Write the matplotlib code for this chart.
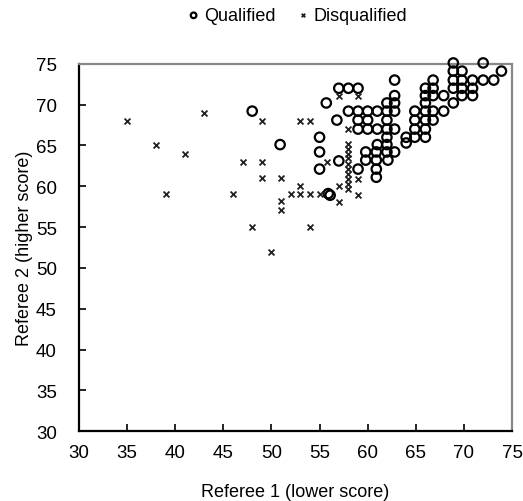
import numpy as np
import matplotlib.pyplot as plt

plt.rcParams['font.family'] = ['Liberation Sans', 'DejaVu Sans']

# qualified entries (referee 1 lower score, referee 2 higher score)
qual_x = [48, 50.9,
          68.9, 72, 68.9, 69.8, 73.9,
          62.8, 66.8, 68.9, 69.8, 70.9, 72, 73.1,
          57, 58, 59, 66, 66.8, 68.9, 69.8, 70.9,
          62.8, 66, 66.8, 67.9, 69.8, 70.9,
          55.7, 62, 62.8, 66, 68.9,
          58, 59, 60, 61, 62, 62.8, 64.9, 66, 66.8, 67.9,
          56.8, 59, 60, 62, 64.9, 66, 66.8,
          59, 60, 61, 62, 62.8, 64.9, 66,
          55, 62, 64, 64.9, 66,
          61, 62, 64,
          55, 59.8, 60.9, 62, 62.8,
          57, 59.8, 60.9, 62.1,
          55, 59, 60.9,
          60.9,
          55.9, 56.1]
qual_y = [69.2, 65.1,
          75.1, 75.1, 74.1, 74.1, 74.1,
          73, 73, 73, 73, 73, 73, 73,
          72, 72, 72, 72, 72, 72, 72, 72,
          71.1, 71.1, 71.1, 71.1, 71.1, 71.1,
          70.2, 70.2, 70.2, 70.2, 70.2,
          69.2, 69.2, 69.2, 69.2, 69.2, 69.2, 69.2, 69.2, 69.2, 69.2,
          68.1, 68.1, 68.1, 68.1, 68.1, 68.1, 68.1,
          67, 67, 67, 67, 67, 67, 67,
          66, 66, 66, 66, 66,
          65.1, 65.1, 65.3,
          64.2, 64.2, 64.2, 64.2, 64.2,
          63.1, 63.2, 63.2, 63.2,
          62.1, 62.1, 62.1,
          61.1,
          59.1, 58.9]

# disqualified entries
disq_x = [35, 38, 41, 43, 39, 46, 47, 48, 49, 49, 49, 50, 51, 51, 51,
          52, 53, 54, 55, 53, 53, 54, 54, 55.8, 57, 59, 57, 57, 59, 59, 58,
          58, 58, 58, 58, 58, 58, 58, 58, 58, 58]
disq_y = [68, 65, 64, 69, 59, 59, 63, 55, 68, 63, 61, 52, 61, 58.2, 57.1,
          59, 59, 59, 59, 60, 68, 68, 55, 63, 71, 71, 60, 58.1, 58.9, 60.9, 67,
          65.2, 64.6, 64.0, 63.4, 62.7, 62.1, 61.5, 60.9, 60.3, 59.7]

fig = plt.figure(figsize=(5.23, 5.02), dpi=100)
ax = fig.add_axes([0.151, 0.139, 0.828, 0.732])

ax.scatter(qual_x, qual_y, s=46, facecolors='none', edgecolors='black',
           linewidths=1.6, label='Qualified', zorder=3, clip_on=False)
ax.scatter(disq_x, disq_y, marker='x', s=18, color='#222222',
           linewidths=1.3, label='Disqualified', zorder=3, clip_on=False)

ax.set_xlim(30, 75)
ax.set_ylim(30, 75)
ax.set_xticks(np.arange(30, 76, 5))
ax.set_yticks(np.arange(30, 76, 5))
ax.tick_params(direction='in', length=5, width=1.2, labelsize=13.5)
ax.tick_params(axis='x', pad=9)
ax.tick_params(axis='y', pad=16)

for side in ['left', 'bottom']:
    ax.spines[side].set_linewidth(1.6)
    ax.spines[side].set_color('black')
for side in ['top', 'right']:
    ax.spines[side].set_linewidth(1.6)
    ax.spines[side].set_color('#888888')

ax.set_xlabel('Referee 1 (lower score)', fontsize=13, labelpad=16)
ax.set_ylabel('Referee 2 (higher score)', fontsize=13, labelpad=2)

fig.legend(loc='center', bbox_to_anchor=(0.566, 0.967), ncol=2, frameon=False,
           fontsize=13, handletextpad=0.1, columnspacing=1.0, markerscale=0.6,
           handlelength=1.0)

fig.savefig('out.png', dpi=100)
